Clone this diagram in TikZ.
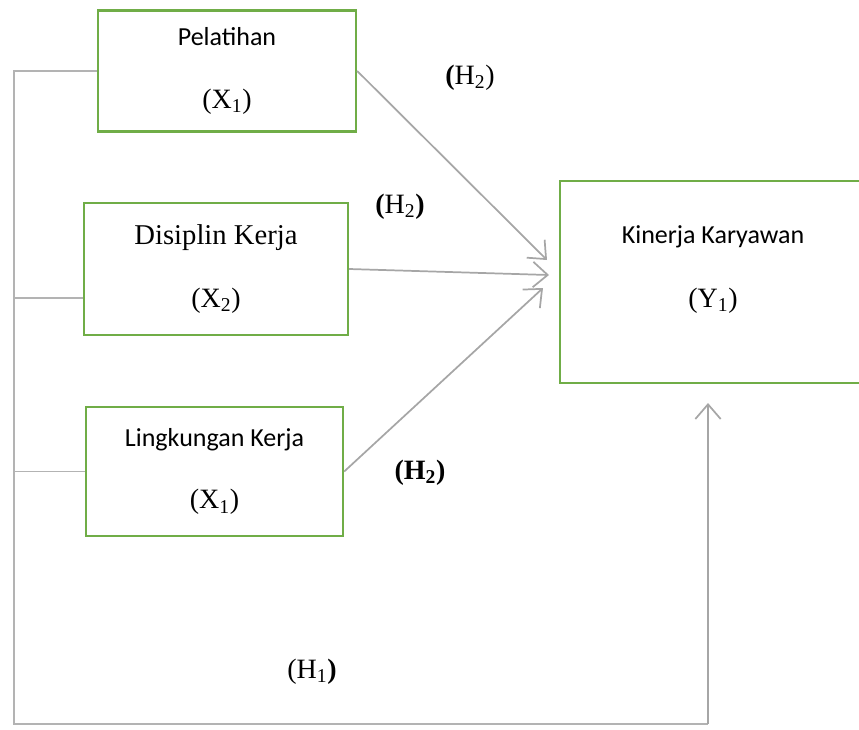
\documentclass[tikz,border=0pt]{standalone}
\usepackage{fontspec}
\setmainfont{Liberation Serif}
\newfontfamily\calibri{Carlito}
\usetikzlibrary{arrows.meta}
\definecolor{boxgreen}{RGB}{112,173,71}
\definecolor{linegray}{RGB}{166,166,166}
\newcommand{\sanslabel}[1]{{\calibri\fontsize{19.5}{47}\selectfont #1}}
\tikzset{
  varbox/.style={draw=boxgreen, line width=1.8pt, align=center, inner sep=0pt,
    font=\fontsize{21}{47}\selectfont},
  hyplabel/.style={font=\fontsize{21}{25}\selectfont, inner sep=0pt},
  thinlink/.style={draw=linegray!85, line width=0.8pt},
  arrowlink/.style={draw=linegray, line width=1.3pt,
    -{Straight Barb[length=11pt,width=19pt,line width=1.3pt]}}
}
\begin{document}
\begin{tikzpicture}[x=0.75pt, y=-0.75pt]
            \useasboundingbox (0,0) rectangle (859,729);

            % Drawing box X1 Pelatihan
            \node [varbox, minimum width=193.5pt, minimum height=90.75pt] (pel) at (227.000000,71.000000)
              {\sanslabel{Pelatihan}\\(X\textsubscript{1})};%

            % Drawing box X2 Disiplin Kerja
            \node [varbox, minimum width=198pt, minimum height=99pt] (dis) at (216.000000,269.000000)
              {\fontsize{21.5}{49}\selectfont Disiplin Kerja\\(X\textsubscript{2})};%

            % Drawing box X3 Lingkungan Kerja
            \node [varbox, minimum width=192.75pt, minimum height=96.75pt] (lin) at (214.500000,471.500000)
              {\sanslabel{Lingkungan Kerja}\\(X\textsubscript{1})};%

            % Drawing box Y1 Kinerja Karyawan (right side runs off the page)
            \node [varbox, minimum width=226.5pt, minimum height=151.5pt] (kin) at (711.000000,282.000000) {};%
            \node (kinname) at (713.000000,237.000000) {\sanslabel{Kinerja Karyawan}};%
            \node [font=\fontsize{21}{25}\selectfont] (kinvar) at (713.000000,301.000000) {(Y\textsubscript{1})};%

            % Marking points on the left line and arrow ends
            \coordinate (spinetop) at (14.000000,71.000000);%
            \coordinate (spinemid) at (14.000000,298.000000);%
            \coordinate (spinebot) at (14.000000,724.000000);%
            \coordinate (corner) at (708.000000,724.000000);%
            \coordinate (tipone) at (547.000000,260.000000);%
            \coordinate (tiptwo) at (549.000000,275.000000);%
            \coordinate (tipthree) at (543.000000,288.000000);%
            \coordinate (tipfour) at (708.000000,403.000000);%

            % Drawing left line with branches
            \draw [thinlink] (pel.west) -- (spinetop) -- (spinebot) -- (corner);%
            \draw [thinlink] (spinemid) -- (spinemid -| dis.west);%
            \draw [thinlink] (spinetop |- lin.west) -- (lin.west);%

            % Drawing arrows to Y1
            \draw [arrowlink] (pel.east) -- (tipone);%
            \draw [arrowlink] (dis.east) -- (tiptwo);%
            \draw [arrowlink] (lin.east) -- (tipthree);%
            \draw [arrowlink] (corner) -- (tipfour);%

            % Marking hypotheses
            \node [hyplabel] (hypone) at (470.000000,78.000000) {\textbf{(}H\textsubscript{2})};%
            \node [hyplabel] (hyptwo) at (400.000000,207.000000) {\textbf{(}H\textsubscript{2}\textbf{)}};%
            \node [hyplabel] (hypthree) at (420.000000,473.000000) {\textbf{(H\textsubscript{2})}};%
            \node [hyplabel] (hypfour) at (312.000000,672.000000) {(H\textsubscript{1}\textbf{)}};%
        \end{tikzpicture}
\end{document}
